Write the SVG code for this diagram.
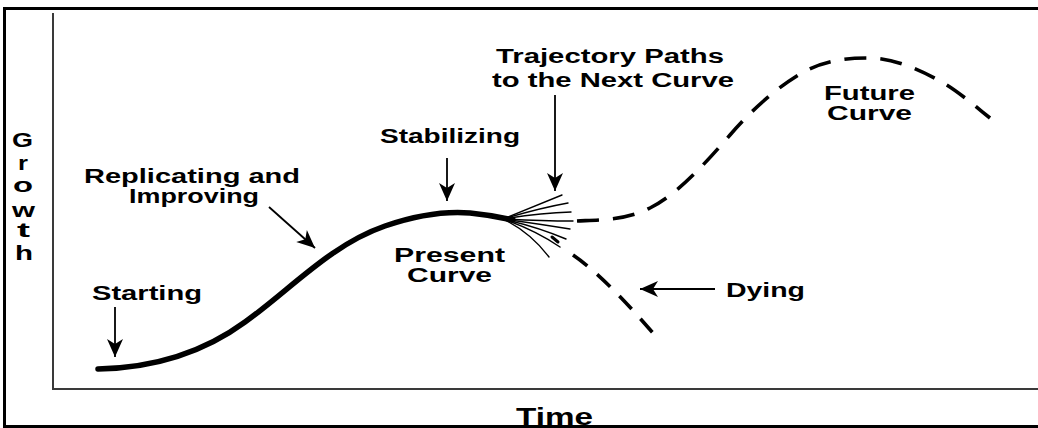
<svg xmlns="http://www.w3.org/2000/svg" width="1038" height="428" viewBox="0 0 1038 428">
<style>
.t{font-family:"Liberation Sans",Arial,sans-serif;font-weight:bold;font-size:20px;fill:#000}
.big{font-size:24px}
.thin{fill:none;stroke:#000;stroke-width:1.4;stroke-linecap:round}
.arr{fill:none;stroke:#000;stroke-width:1.8}
.dash{fill:none;stroke:#000;stroke-width:3.6}
</style>
<defs>
<marker id="ah" markerUnits="userSpaceOnUse" markerWidth="24" markerHeight="20" viewBox="-18 -10 20 20" refX="0" refY="0" orient="auto">
<path d="M0,0 L-18,-8 L-13,0 L-18,8 Z" fill="#000"/>
</marker>
</defs>
<rect width="1038" height="428" fill="#fff"/>
<g id="frame">
<rect x="4.5" y="8.5" width="1040" height="418" fill="none" stroke="#000" stroke-width="3"/>
<path d="M53,13 V389 H1040" fill="none" stroke="#3a3a3a" stroke-width="2"/>
</g>
<g id="axis-labels">
<text class="t" x="12" y="147" textLength="21" lengthAdjust="spacingAndGlyphs">G</text>
<text class="t" x="18" y="170" textLength="10" lengthAdjust="spacingAndGlyphs">r</text>
<text class="t" x="13" y="192" textLength="20" lengthAdjust="spacingAndGlyphs">o</text>
<text class="t" x="12" y="217" textLength="23" lengthAdjust="spacingAndGlyphs">w</text>
<text class="t" x="17" y="237" textLength="13" lengthAdjust="spacingAndGlyphs">t</text>
<text class="t" x="15" y="260" textLength="18" lengthAdjust="spacingAndGlyphs">h</text>
<text class="t big" x="516" y="425" textLength="77" lengthAdjust="spacingAndGlyphs">Time</text>
</g>
<g id="present-curve">
<path d="M98,369 C150,368 200,355 245,322 C290,290 330,245 385,226 C420,214 445,211 470,213 C490,215 500,217 513,220" fill="none" stroke="#000" stroke-width="5.5" stroke-linecap="round"/>
<path class="thin" d="M503,219 Q535,206 562,195"/>
<path class="thin" d="M503,219 Q540,208 568,203"/>
<path class="thin" d="M503,219 Q540,213 571,212"/>
<path class="thin" d="M503,219 Q540,221 573,221"/>
<path class="thin" d="M503,219 Q540,224 570,229"/>
<path class="thin" d="M503,219 Q538,227 566,239"/>
<path class="thin" d="M503,219 Q535,230 560,247"/>
<path class="thin" d="M503,219 Q530,232 549,257"/>
<path d="M552,237 L558,242" stroke="#000" stroke-width="3" fill="none" stroke-linecap="round"/>
<text class="t" x="394" y="262" textLength="111" lengthAdjust="spacingAndGlyphs">Present</text>
<text class="t" x="407" y="282" textLength="85" lengthAdjust="spacingAndGlyphs">Curve</text>
</g>
<g id="future-curve">
<path class="dash" stroke-dasharray="22 14" d="M577,221 C601.3,219.8 625.7,220.2 650,208 C676.7,194.7 703.3,165.7 730,135 C753.3,108.2 776.7,88 800,74 C822.7,60.4 845.3,58 868,58 C892,58 916,67.8 940,81 C956.7,90.2 973.3,104.6 990,118"/>
<text class="t" x="824" y="100" textLength="91" lengthAdjust="spacingAndGlyphs">Future</text>
<text class="t" x="827" y="120" textLength="85" lengthAdjust="spacingAndGlyphs">Curve</text>
</g>
<g id="dying-curve">
<path class="dash" stroke-dasharray="18 13" d="M573,255 C595,270 620,295 653,333"/>
</g>
<g id="labels">
<text class="t" x="92" y="300" textLength="110" lengthAdjust="spacingAndGlyphs">Starting</text>
<text class="t" x="84" y="183" textLength="216" lengthAdjust="spacingAndGlyphs">Replicating and</text>
<text class="t" x="129" y="203" textLength="130" lengthAdjust="spacingAndGlyphs">Improving</text>
<text class="t" x="380" y="143" textLength="140" lengthAdjust="spacingAndGlyphs">Stabilizing</text>
<text class="t" x="496" y="63" textLength="228" lengthAdjust="spacingAndGlyphs">Trajectory Paths</text>
<text class="t" x="492" y="87" textLength="242" lengthAdjust="spacingAndGlyphs">to the Next Curve</text>
<text class="t" x="726" y="297" textLength="79" lengthAdjust="spacingAndGlyphs">Dying</text>
</g>
<g id="connectors">
<line class="arr" x1="115" y1="307" x2="115" y2="357" marker-end="url(#ah)"/>
<line class="arr" x1="269" y1="207" x2="315" y2="248" marker-end="url(#ah)"/>
<line class="arr" x1="447" y1="158" x2="447" y2="201" marker-end="url(#ah)"/>
<line class="arr" x1="555" y1="95" x2="555" y2="191" marker-end="url(#ah)"/>
<line class="arr" x1="715" y1="289" x2="640" y2="289" marker-end="url(#ah)"/>
</g>
</svg>
